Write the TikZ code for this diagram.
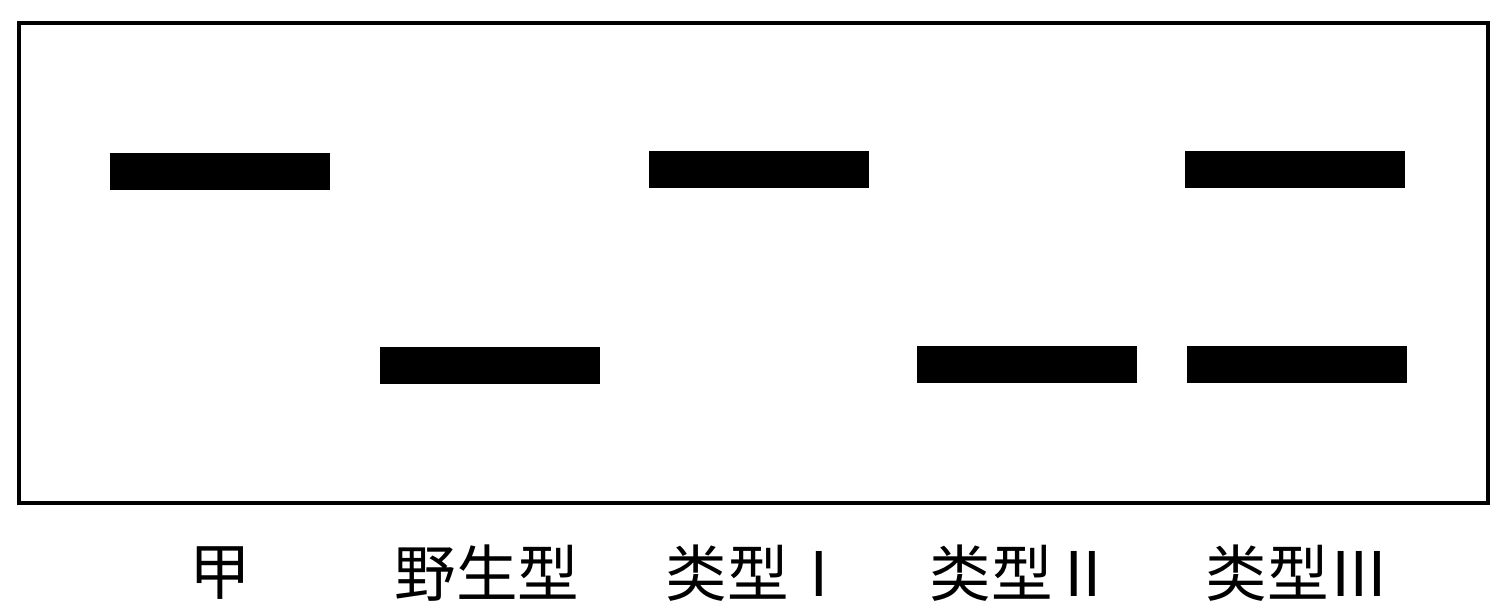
\documentclass[tikz,border=0pt]{standalone}
\usepackage{fontspec}
\setmainfont{Noto Sans CJK SC}
\usetikzlibrary{positioning}
\tikzset{
	band/.style={fill=black, minimum width=2.2cm, minimum height=0.37cm, inner sep=0pt},
	lane/.style={font=\fontsize{17.5}{17.5}\selectfont, inner sep=0pt},
	baseline}

\begin{document}
\begin{tikzpicture}[x=0.01cm, y=-0.01cm]
		\useasboundingbox (0,0) rectangle (1490,605);
		\draw[line width=1pt] (19,23) rectangle (1488,503);
		
		% bands
		\node[band] (b1) at (220,171) {};
		\node[band] (b2) at (490,365) {};
		\node[band] (b3) at (759,169) {};
		\node[band] (b4) at (1027,364) {};
		\node[band] (b5) at (1295,169) {};
		\node[band] (b6) at (1297,364) {};
		
		% lanes
		\node[lane] (l1) at (220,573) {甲};
		\node[lane] (l2) at (487,573) {野生型};
		\node[lane] (l3) at (758,573) {类型Ⅰ};
		\node[lane] (l4) at (1022,573) {类型Ⅱ};
		\node[lane] (l5) at (1298,573) {类型Ⅲ};
	\end{tikzpicture}
\end{document}
